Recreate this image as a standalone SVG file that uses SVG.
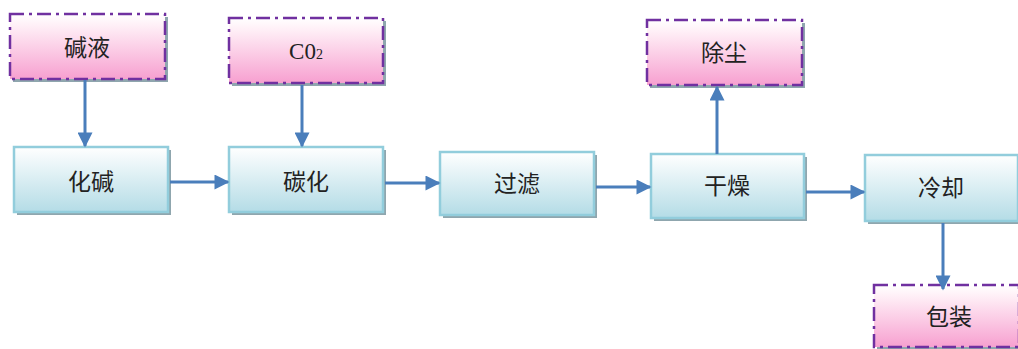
<svg xmlns="http://www.w3.org/2000/svg" width="1018" height="349" viewBox="0 0 1018 349">
<style>
.shadow{fill:#8fa6ae}
.proc{fill:url(#gBlue);stroke:#92cddc;stroke-width:2.5}
.io{fill:url(#gPink);stroke:#7030a0;stroke-width:2.5;stroke-dasharray:14 5 3 5}
.lbl{font-family:"Noto Sans CJK SC","Liberation Serif",serif;font-size:23px;fill:#222;text-anchor:middle;dominant-baseline:central}
.co2{font-family:"Liberation Serif",serif;font-size:23px;fill:#222;text-anchor:middle;dominant-baseline:central}
.conn{stroke:#4a7ebb;stroke-width:3;fill:none;marker-end:url(#ah)}
</style>
<defs>
<linearGradient id="gBlue" x1="0" y1="0" x2="0" y2="1"><stop offset="0" stop-color="#ffffff"/><stop offset="1" stop-color="#b4dce6"/></linearGradient>
<linearGradient id="gPink" x1="0" y1="0" x2="0" y2="1"><stop offset="0" stop-color="#ffffff"/><stop offset="0.15" stop-color="#fff2f8"/><stop offset="1" stop-color="#f7a0d0"/></linearGradient>
<marker id="ah" viewBox="0 0 10 10" refX="9" refY="5" markerWidth="5.5" markerHeight="5" markerUnits="strokeWidth" orient="auto"><path d="M0,0 L10,5 L0,10 z" fill="#4a7ebb"/></marker>
</defs>
<rect width="1018" height="349" fill="#ffffff"/>

<g id="node-jianye"><rect class="shadow" x="13" y="17" width="155" height="65"/><rect class="io" x="10" y="14" width="155" height="65"/><text class="lbl" x="87" y="46">碱液</text></g>
<g id="node-co2"><rect class="shadow" x="232" y="21" width="154" height="65"/><rect class="io" x="229" y="18" width="154" height="65"/><text class="co2" x="306" y="51">C0<tspan font-size="14" dy="3">2</tspan></text></g>
<g id="node-chenchen"><rect class="shadow" x="650" y="23" width="155" height="65"/><rect class="io" x="647" y="20" width="155" height="65"/><text class="lbl" x="724" y="51">除尘</text></g>
<g id="node-baozhuang"><rect class="shadow" x="877" y="288" width="145" height="65"/><rect class="io" x="874" y="285" width="145" height="62"/><text class="lbl" x="949" y="315">包装</text></g>

<g id="node-huajian"><rect class="shadow" x="17" y="150" width="154" height="65"/><rect class="proc" x="14" y="147" width="154" height="65"/><text class="lbl" x="91" y="180">化碱</text></g>
<g id="node-tanhua"><rect class="shadow" x="232" y="150" width="154" height="65"/><rect class="proc" x="229" y="147" width="154" height="65"/><text class="lbl" x="306" y="180">碳化</text></g>
<g id="node-guolv"><rect class="shadow" x="443" y="155" width="154" height="63"/><rect class="proc" x="440" y="152" width="154" height="63"/><text class="lbl" x="517" y="182">过滤</text></g>
<g id="node-ganzao"><rect class="shadow" x="654" y="157" width="153" height="64"/><rect class="proc" x="651" y="154" width="153" height="64"/><text class="lbl" x="727" y="184">干燥</text></g>
<g id="node-lengque"><rect class="shadow" x="868" y="158" width="153" height="66"/><rect class="proc" x="865" y="155" width="153" height="66"/><text class="lbl" x="941" y="186">冷却</text></g>

<g id="connectors">
<line class="conn" x1="85" y1="80" x2="85" y2="146"/>
<line class="conn" x1="302" y1="85" x2="302" y2="146"/>
<line class="conn" x1="170" y1="182" x2="228" y2="182"/>
<line class="conn" x1="385" y1="183" x2="439" y2="183"/>
<line class="conn" x1="596" y1="187" x2="650" y2="187"/>
<line class="conn" x1="717" y1="154" x2="717" y2="87"/>
<line class="conn" x1="806" y1="192" x2="864" y2="192"/>
<line class="conn" x1="943" y1="223" x2="943" y2="289"/>
</g>
</svg>
